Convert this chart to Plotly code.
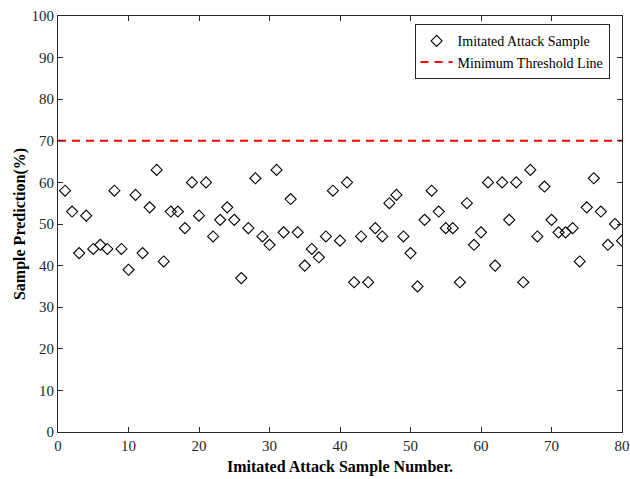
import plotly.graph_objects as go

sample_numbers = list(range(1, 81))
predictions = [58, 53, 43, 52, 44, 45, 44, 58, 44, 39,
               57, 43, 54, 63, 41, 53, 53, 49, 60, 52,
               60, 47, 51, 54, 51, 37, 49, 61, 47, 45,
               63, 48, 56, 48, 40, 44, 42, 47, 58, 46,
               60, 36, 47, 36, 49, 47, 55, 57, 47, 43,
               35, 51, 58, 53, 49, 49, 36, 55, 45, 48,
               60, 40, 60, 51, 60, 36, 63, 47, 59, 51,
               48, 48, 49, 41, 54, 61, 53, 45, 50, 46]
threshold_x = [0, 80]
threshold_y = [70, 70]

x_ticks = [0, 10, 20, 30, 40, 50, 60, 70, 80]
y_ticks = [0, 10, 20, 30, 40, 50, 60, 70, 80, 90, 100]

font_family = "Liberation Serif"

fig = go.Figure()
fig.add_trace(go.Scatter(
    x=sample_numbers, y=predictions, mode="markers",
    name="Imitated Attack Sample",
    marker=dict(symbol="diamond-open", size=8.5, color="black",
                line=dict(width=1.1, color="black")),
))
fig.add_trace(go.Scatter(
    x=threshold_x, y=threshold_y, mode="lines",
    name="Minimum Threshold Line",
    line=dict(color="#ff0000", width=2, dash="8px,6px"),
))

axis_common = dict(
    showgrid=False, zeroline=False, showline=True, mirror="ticks",
    linecolor="#262626", linewidth=1, ticks="inside", ticklen=5,
    tickcolor="#262626", tickwidth=1, automargin=False,
    tickfont=dict(family=font_family, size=15, color="#262626"),
)

fig.update_layout(
    width=630, height=479,
    margin=dict(l=58, r=8, t=16, b=47, autoexpand=False),
    paper_bgcolor="white", plot_bgcolor="white",
    font=dict(family=font_family, color="black"),
    xaxis=dict(range=[0, 80], tickvals=x_ticks,
               title=dict(text="<b>Imitated Attack Sample Number.</b>",
                          font=dict(family=font_family, size=16, color="black"),
                          standoff=7),
               **axis_common),
    yaxis=dict(range=[0, 100], tickvals=y_ticks,
               title=dict(text="<b>Sample Prediction(%)</b>",
                          font=dict(family=font_family, size=16, color="black"),
                          standoff=1),
               **axis_common),
    legend=dict(x=0.978, y=0.98, xanchor="right", yanchor="top",
                bgcolor="white", bordercolor="#262626", borderwidth=1,
                font=dict(family=font_family, size=14, color="black"),
                tracegroupgap=0, itemwidth=32),
    showlegend=True,
)

fig.write_html("out.html",
               config={"displayModeBar": False},
               post_script="document.body.style.margin='0';document.body.style.overflow='hidden';")
